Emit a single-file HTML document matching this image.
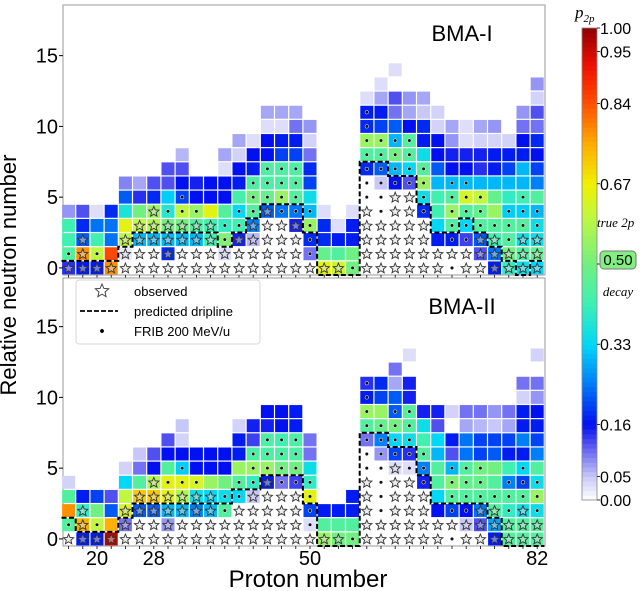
<!DOCTYPE html>
<html><head><meta charset="utf-8">
<style>
body{margin:0;background:#fff;}
svg{display:block;font-family:"Liberation Sans",sans-serif;}
</style></head>
<body>
<svg id="chart" width="640" height="591" viewBox="0 0 640 591" xmlns="http://www.w3.org/2000/svg">
<g id="panels"></g>
<text x="16" y="275" font-size="22" text-anchor="middle" transform="rotate(-90 16 275)">Relative neutron number</text>
<text x="308" y="587" font-size="24" text-anchor="middle">Proton number</text>
<g id="legend">
<rect x="76" y="280" width="184" height="64" rx="3" fill="#fff" fill-opacity="0.9" stroke="#ccc" stroke-width="0.8"/>
<polygon id="lgstar" fill="#fff" stroke="#333" stroke-width="0.9"/>
<text x="134" y="296" font-size="13">observed</text>
<line x1="80" y1="311" x2="118" y2="311" stroke="#000" stroke-width="1.8" stroke-dasharray="5,2"/>
<text x="134" y="316" font-size="13">predicted dripline</text>
<circle cx="102" cy="331" r="2.2" fill="#000" stroke="#fff" stroke-width="0.5"/>
<text x="134" y="336" font-size="13">FRIB 200 MeV/u</text>
</g>
<g id="colorbar"></g>
<text x="575" y="18" font-size="17" font-style="italic" font-family="Liberation Serif,serif">p<tspan font-size="11" dy="4">2p</tspan></text>
<text x="597" y="227" font-size="13" font-style="italic" font-family="Liberation Serif,serif">true 2p</text>
<rect x="600" y="251" width="36" height="18" rx="4" fill="#80f080" stroke="#777" stroke-width="1"/>
<text x="618" y="265" font-size="15" text-anchor="middle">0.50</text>
<text x="618" y="296" font-size="13" font-style="italic" font-family="Liberation Serif,serif" text-anchor="middle">decay</text>
</svg>
<script>
const protonZ=[16,18,20,22,24,26,28,30,32,34,36,38,40,42,44,46,48,50,52,54,56,58,60,62,64,66,68,70,72,74,76,78,80,82];
const xTickLabels=[20,28,50,82];
const yTickLabels=[0,5,10,15];
const cbTickLabels=[0,0.05,0.16,0.33,0.5,0.67,0.84,0.95,1];
const topValues=[
[0.14,0.45,0.42,0.42,0.08],[0.17,0.78,0.22,0.18,0.12],[0.17,0.6,0.42,0.24,0.03],[0.78,0.85,0.24,0.24,0.18],
[0,0.02,0.6,0.65,0.37,0.22,0.09],[0,0,0.3,0.6,0.5,0.14,0.07],[0,0,0.3,0.58,0.55,0.18,0.12],[0,0.18,0.3,0.5,0.38,0.32,0.12,0.12],
[0,0,0.3,0.5,0.6,0.2,0.16,0.12,0.06],[0,0,0.3,0.45,0.55,0.16,0.15],[0,0,0.42,0.42,0.65,0.16,0.16],[0,0.03,0.52,0.4,0.45,0.16,0.16,0.03,0.07],
[0,0,0.15,0.42,0.33,0.43,0.17,0.16,0.04,0.07],[0,0,0.06,0.25,0.45,0.5,0.44,0.17,0.16,0.03],[0,0,0,0,0.22,0.48,0.44,0.44,0.16,0.16,0.03,0.07],
[0,0,0,0,0.24,0.55,0.44,0.44,0.2,0.17,0.03,0.07],[0,0,0,0.15,0.24,0.45,0.45,0.44,0.2,0.17,0.1,0.07],[0,0.1,0.18,0.55,0.3,0.35,0.2,0.18,0.1,0.04,0.08],
[0.65,0.48,0.18,0.18,0.03],[0.62,0.45,0.17,0.03],[0.5,0.5,0.17,0.17,0.03],
[0,0,0,0,0,0,0,0.18,0.45,0.55,0.18,0.17,0.03],[0,0,0,0,0,0,0.05,0.22,0.45,0.55,0.2,0.17,0.07,0.03],
[0,0,0,0,0,0,0.16,0.3,0.5,0.3,0.22,0.1,0.12,0,0.03],[0,0,0,0,0,0,0.12,0.33,0.45,0.45,0.16,0.07,0.08],
[0,0,0,0,0.18,0.35,0.55,0.45,0.35,0.17,0.18,0.05,0.07],[0,0,0.17,0.33,0.42,0.42,0.3,0.22,0.16,0.16,0.04,0.04],
[0,0,0.17,0.45,0.55,0.45,0.3,0.16,0.15,0.08,0.07],[0,0,0.13,0.33,0.45,0.63,0.3,0.16,0.15,0.03,0.03],
[0,0.12,0.22,0.45,0.48,0.6,0.3,0.14,0.15,0.04,0.07],[0.17,0.24,0.42,0.45,0.55,0.48,0.3,0.17,0.17,0.04,0.08],
[0.4,0.5,0.45,0.45,0.32,0.4,0.3,0.2,0.17,0.04],[0.35,0.45,0.35,0.45,0.32,0.42,0.3,0.3,0.17,0.16,0.1,0.08],
[0.33,0.48,0.35,0.35,0.3,0.45,0.25,0.2,0.16,0.18,0.1,0.12,0.04,0.08]];
const topMarkers=["sd","sss","sd","s","sss","ssss","sssss","ssssd","ssssdd","ssssd","ssss","ssdd","sssdd","ssssddd","sssssddd","ssssdddd","ssssdddd","sdddd","s","s","d","sssssddddddd","ssssdddddd","ssssssdddd","ssssssdddd","ssssdddd","ss","dsddddd","ssddddd","sssddd","sssd","ssddd","sssddd","sssdd"];
const topDrip=[1,1,1,1,2,3,3,3,3,3,3,2,3,4,5,5,5,3,0,0,0,8,8,7,7,5,3,3,4,3,2,1,0,1];
const botValues=[
[0,0.45,0.78,0.45,0.04],[0.17,0.75,0.4,0.17],[0.17,0.6,0.5,0.2],[0.97,0.75,0.22,0.12],
[0,0.1,0.63,0.6,0.33,0.04],[0,0,0.22,0.72,0.45,0.1,0.05],[0,0,0.22,0.72,0.58,0.16,0.12],[0,0.08,0.3,0.65,0.65,0.45,0.16,0.12],
[0,0,0.3,0.58,0.65,0.32,0.16,0.04,0.05],[0,0,0.25,0.35,0.63,0.16,0.16],[0,0,0.3,0.33,0.55,0.16,0.16],[0,0,0.45,0.35,0.5,0.16,0.16],
[0,0,0,0.33,0.45,0.55,0.17,0.17,0.04],[0,0,0,0.05,0.4,0.55,0.44,0.13,0.15],[0,0,0,0,0.17,0.55,0.44,0.44,0.15,0.16],
[0,0,0,0,0.1,0.5,0.44,0.42,0.16,0.16],[0,0,0,0,0.13,0.5,0.44,0.44,0.17,0.17],[0,0.03,0.2,0.65,0.4,0.35,0.1,0.1],
[0.55,0.45,0.17],[0.5,0.45,0.17],[0.5,0.45,0.17,0.17],
[0,0,0,0,0,0,0,0.1,0.45,0.55,0.17,0.14],[0,0,0,0,0,0,0.08,0.25,0.48,0.55,0.2,0.18],
[0,0,0,0,0,0.03,0.2,0.33,0.5,0.22,0.22,0.07,0.1],[0,0,0,0,0,0.03,0.14,0.35,0.45,0.45,0.15,0.15,0,0.03],
[0,0,0,0,0.15,0.25,0.45,0.42,0.35,0.15],[0,0,0.16,0.33,0.45,0.45,0.3,0.33,0.12,0.15],
[0,0,0.2,0.45,0.52,0.3,0.12,0.17,0,0.04],[0,0.05,0.16,0.45,0.48,0.45,0.24,0.24,0.07,0.1],
[0,0.12,0.24,0.45,0.48,0.5,0.2,0.2,0.06,0.1],[0.17,0.28,0.45,0.45,0.45,0.5,0.22,0.2,0.05,0.08],
[0.45,0.45,0.4,0.45,0.25,0.42,0.17,0.2,0.07,0.1],[0.45,0.45,0.35,0.45,0.2,0.33,0.17,0.25,0.17,0.17,0.04,0.1],
[0.45,0.45,0.35,0.55,0.35,0.45,0.25,0.2,0.17,0.16,0.08,0.1,0,0.04]];
const botMarkers=["sd","sss","sd","s","sss","ssss","sssss","ssssd","ssssdd","ssssd","ssss","ssdd","sssdd","ssssddd","sssssddd","ssssdddd","ssssdddd","sdddd","s","s","d","sssssddddddd","ssddddddd","ssssssdddd","sssssddddd","ssssddd","ss","dsdddd","ssdddd","sssddd","sssd","ssddd","sssddd","ssddd"];
const botDrip=[2,1,1,1,2,3,3,3,3,3,3,3,4,4,5,5,5,3,0,0,0,8,8,7,7,5,3,3,3,3,2,0,0,0];

const NS="http://www.w3.org/2000/svg";
const STOPS=[[0,[255,255,255]],[0.05,[200,200,248]],[0.12,[80,80,240]],[0.16,[0,16,240]],[0.25,[0,128,248]],[0.33,[0,216,248]],[0.42,[64,240,176]],[0.5,[112,240,128]],[0.6,[192,248,64]],[0.67,[240,240,0]],[0.75,[255,176,0]],[0.84,[255,80,0]],[0.92,[240,16,0]],[1,[144,0,0]]];
function cmap(p){for(let i=1;i<STOPS.length;i++){if(p<=STOPS[i][0]){const a=STOPS[i-1],b=STOPS[i],t=(p-a[0])/(b[0]-a[0]);const c=a[1].map((v,k)=>Math.round(v+(b[1][k]-v)*t));return `rgb(${c[0]},${c[1]},${c[2]})`;}}return "rgb(144,0,0)";}
const unit=7.1, rowH=14.15;
function xs(z){return 97+(z-20)*unit;}
function mk(tag,attrs,parent){const e=document.createElementNS(NS,tag);for(const k in attrs)e.setAttribute(k,attrs[k]);parent.appendChild(e);return e;}
function starPts(cx,cy,R){const r=R*0.45;let s=[];for(let i=0;i<10;i++){const a=-Math.PI/2+i*Math.PI/5;const rr=i%2?r:R;s.push((cx+rr*Math.cos(a)).toFixed(1)+","+(cy+rr*Math.sin(a)).toFixed(1));}return s.join(" ");}
document.getElementById('lgstar').setAttribute('points',starPts(102,291,7));

const panels=document.getElementById('panels');
const L=63,R=545;
function drawPanel(name,yBottom,yTop,vals,marks,drip,title){
  const g=mk('g',{},panels);
  
  
  const ys=n=>yBottom-7.1-n*rowH;
  const frame=mk('rect',{x:L,y:yTop,width:R-L,height:yBottom-yTop,fill:'#fff',stroke:'#999','stroke-width':1},g);
  
  
  protonZ.forEach((z,ci)=>{
    const col=vals[ci];
    col.forEach((v,n)=>{
      if(v>0){
        const c=mk('rect',{x:xs(z)-unit+0.6,y:ys(n)-rowH/2+0.6,width:2*unit-1.2,height:rowH-1.2,fill:cmap(v)},g);
        
        
      }
    });
    const m=marks[ci];
    for(let n=0;n<m.length;n++){
      if(m[n]==='s'){
        const s=mk('polygon',{points:starPts(xs(z),ys(n)+0.5,5.4),fill:'rgba(220,220,220,0.5)',stroke:'#333','stroke-width':0.9},g);
        
        
      }else if(m[n]==='d'){
        const d=mk('circle',{cx:xs(z),cy:ys(n),r:1.8,fill:'#111',stroke:'#fff','stroke-width':0.5},g);
        
        
      }
    }
  });
  const edgeY=h=>yBottom-h*rowH;
  let d='M'+(xs(protonZ[0])-unit)+','+edgeY(drip[0]);
  protonZ.forEach((z,ci)=>{
    d+=' L'+(xs(z)+unit)+','+edgeY(drip[ci]);
    if(ci+1<protonZ.length)d+=' L'+(xs(z)+unit)+','+edgeY(drip[ci+1]);
  });
  const p=mk('path',{d:d,fill:'none',stroke:'#000','stroke-width':2,'stroke-dasharray':'5,2.5'},g);
  
  
  yTickLabels.forEach(t=>{
    const y=ys(t);
    mk('line',{x1:L-4,y1:y,x2:L,y2:y,stroke:'#000','stroke-width':1},g);
    const tx=mk('text',{x:L-5,y:y+7,'font-size':20,'text-anchor':'end'},g);
    tx.textContent=t;
    
    
  });
  protonZ.forEach(z=>{mk('line',{x1:xs(z),y1:yBottom,x2:xs(z),y2:yBottom+3,stroke:'#000','stroke-width':0.8},g);});
  const tt=mk('text',{x:462,y:yTop+36,'font-size':22,'text-anchor':'middle'},g);
  tt.textContent=title;
  
  
}
drawPanel('panel-bma-i',275,5,topValues,topMarkers,topDrip,'BMA-I');
drawPanel('panel-bma-ii',546,278,botValues,botMarkers,botDrip,'BMA-II');
xTickLabels.forEach(t=>{
  const tx=mk('text',{x:xs(t),y:565,'font-size':20,'text-anchor':'middle'},panels);
  tx.textContent=t;
  
  
});
const cb=document.getElementById('colorbar');
const cbTop=28,cbBot=500,cbX=582,cbW=15;
const cy=p=>cbBot-p*(cbBot-cbTop);
for(let i=0;i<100;i++){
  const p0=i/100,p1=(i+1)/100;
  mk('rect',{x:cbX,y:cy(p1),width:cbW,height:cy(p0)-cy(p1)+0.5,fill:cmap((p0+p1)/2)},cb);
}
mk('rect',{x:cbX,y:cbTop,width:cbW,height:cbBot-cbTop,fill:'none',stroke:'#888','stroke-width':0.8},cb);
cbTickLabels.forEach(t=>{
  const y=cy(t);
  mk('line',{x1:cbX+cbW,y1:y,x2:cbX+cbW+3,y2:y,stroke:'#000','stroke-width':0.8},cb);
  if(t===0.5)return;
  const tx=mk('text',{x:cbX+cbW+3,y:y+6,'font-size':16},cb);
  tx.textContent=t.toFixed(2);
  
  
});
</script>
</body></html>
